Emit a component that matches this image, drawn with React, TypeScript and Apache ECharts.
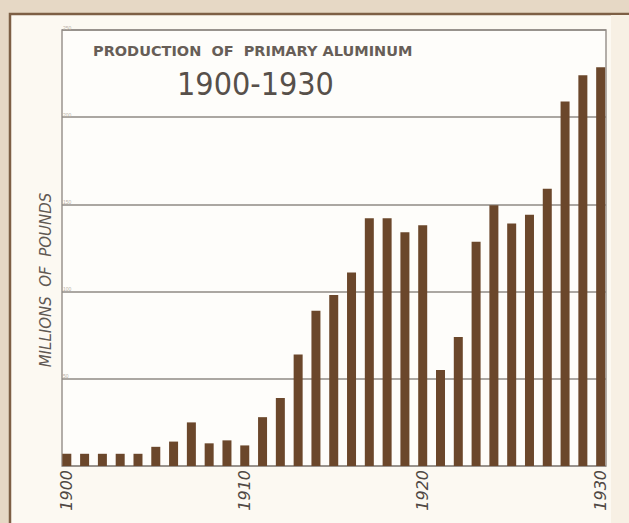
import React, { useEffect, useRef } from "react";
import * as echarts from "echarts";

const years: number[] = [
  1900, 1901, 1902, 1903, 1904, 1905, 1906, 1907, 1908, 1909,
  1910, 1911, 1912, 1913, 1914, 1915, 1916, 1917, 1918, 1919,
  1920, 1921, 1922, 1923, 1924, 1925, 1926, 1927, 1928, 1929, 1930,
];
const production: number[] = [
  7, 7, 7, 7, 7, 11, 14, 25, 13, 14.7,
  11.8, 28, 39, 64, 89, 98, 111, 142, 142, 134,
  138, 55, 74, 128.6, 149.5, 139, 144, 159, 209, 224, 228.6,
];
const xLabelYears: number[] = [1900, 1910, 1920, 1930];
const yMax = 250;
const yStep = 50;
const titleLine1 = "PRODUCTION  OF  PRIMARY ALUMINUM";
const titleLine2 = "1900-1930";
const yAxisTitle = "MILLIONS  OF  POUNDS";

export default function App() {
  const ref = useRef<HTMLDivElement>(null);
  useEffect(() => {
    if (!ref.current) return;
    const chart = echarts.init(ref.current, null, { renderer: "svg" });
    const data = years.map((y, i) => [y, production[i]]);
    chart.setOption({
      animation: false,
      backgroundColor: "#e6d8c5",
      graphic: [
        {
          type: "rect",
          z: -10,
          shape: { x: 10, y: 14, width: 640, height: 540 },
          style: { fill: "#fcf9f2", stroke: "#7d5f45", lineWidth: 2.5 },
        },
        {
          type: "rect",
          z: -9,
          shape: { x: 611, y: 15, width: 30, height: 520 },
          style: { fill: "#f7f0e4" },
        },
        {
          type: "text",
          x: 93,
          y: 43,
          style: {
            text: titleLine1,
            fill: "#675e57",
            font: "bold 14.5px 'DejaVu Sans'",
          },
        },
        {
          type: "text",
          x: 177,
          y: 68,
          style: {
            text: titleLine2,
            fill: "#57504a",
            font: "32px 'DejaVu Sans Condensed', 'Liberation Sans Narrow', 'DejaVu Sans'",
          },
        },
        {
          type: "text",
          x: 46,
          y: 280,
          rotation: Math.PI / 2,
          style: {
            text: yAxisTitle,
            fill: "#5f5852",
            font: "italic 15px 'DejaVu Sans'",
            align: "center",
            verticalAlign: "middle",
          },
        },
      ],
      grid: {
        left: 62,
        right: 23,
        top: 30,
        bottom: 57,
        show: true,
        backgroundColor: "#fefdfa",
        borderColor: "#9a948e",
        borderWidth: 1.5,
      },
      xAxis: {
        type: "value",
        min: 1899.73,
        max: 1930.3,
        splitLine: { show: false },
        axisTick: { show: false },
        axisLine: { show: false },
        axisLabel: {
          customValues: xLabelYears,
          rotate: 90,
          margin: 4,
          color: "#4f4843",
          fontSize: 16,
          fontStyle: "italic",
          fontFamily: "'DejaVu Sans'",
          formatter: (v: number) => String(Math.round(v)),
        },
      },
      yAxis: {
        type: "value",
        min: 0,
        max: yMax,
        interval: yStep,
        axisLine: { show: false },
        axisTick: { show: false },
        splitLine: { lineStyle: { color: "#8f8a84", width: 1.5 } },
        axisLabel: {
          inside: true,
          showMinLabel: false,
          fontSize: 5,
          color: "#b9b1a8",
          verticalAlign: "bottom",
          margin: 1,
        },
      },
      series: [
        {
          type: "bar",
          data,
          barWidth: 9,
          itemStyle: { color: "#6b472b" },
        },
      ],
    });
    return () => chart.dispose();
  }, []);
  return (
    <div
      ref={ref}
      style={{ position: "fixed", left: 0, top: 0, width: 629, height: 523 }}
    />
  );
}
